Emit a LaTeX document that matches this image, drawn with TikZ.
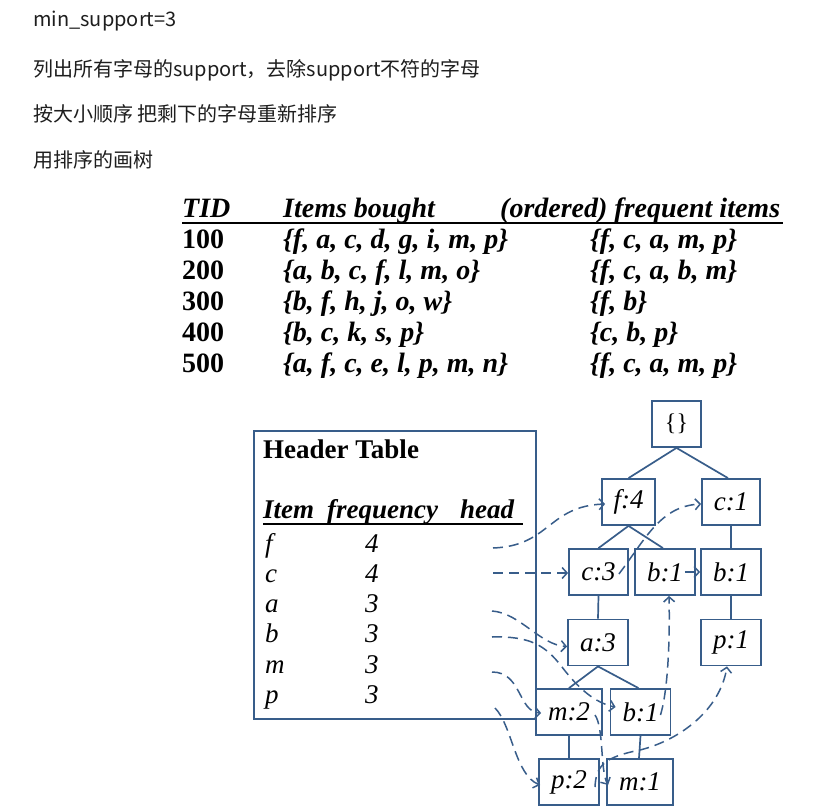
\documentclass[tikz,border=0pt]{standalone}
\usepackage{fontspec}
\setmainfont{Liberation Serif}
\newfontfamily\cjk{Noto Sans CJK SC}
\usetikzlibrary{arrows.meta}
\definecolor{lnk}{HTML}{385D8A}
\definecolor{txt}{HTML}{1E1E1E}
\tikzset{
  cjktext/.style={anchor=base west, inner sep=0pt, text=txt, font=\cjk\fontsize{20}{24}\selectfont},
  tbltext/.style={anchor=base west, inner sep=0pt, font=\fontsize{28}{32}\selectfont\bfseries\itshape},
  tblnum/.style={anchor=base west, inner sep=0pt, font=\fontsize{28}{32}\selectfont\bfseries},
  httext/.style={anchor=base west, inner sep=0pt, font=\fontsize{27}{30}\selectfont\itshape},
  tbox/.style={draw=lnk, line width=1.8pt, inner sep=0pt, minimum height=46pt, font=\fontsize{27}{30}\selectfont\itshape},
  tedge/.style={draw=lnk, line width=1.7pt},
  link/.style={draw=lnk, line width=1.5pt, dash pattern=on 10pt off 6pt,
    -{Straight Barb[length=5pt,width=11pt,line width=1.5pt]}},
}
\begin{document}
\begin{tikzpicture}[x=1pt,y=-1pt]
\useasboundingbox (0,0) rectangle (831,811);
\fill[white] (0,0) rectangle (831,811);

% top text
\node[cjktext] (t1) at (33,27) {min\_support=3};
\node[cjktext] (t2) at (33,76) {列出所有字母的support，去除support不符的字母};
\node[cjktext] (t3) at (33,121) {按大小顺序 把剩下的字母重新排序};
\node[cjktext] (t4) at (33,167) {用排序的画树};

% transaction table
\node[tbltext] (h1) at (182,217) {TID};
\node[tbltext] (h2) at (283,217) {Items bought};
\node[tbltext] (h3) at (500,217) {(ordered) frequent items};
\draw[line width=1.8pt] (182,223) -- (783,223);
\foreach \tid/\items/\freq [count=\i] in {
  100/{\{f, a, c, d, g, i, m, p\}}/{\{f, c, a, m, p\}},
  200/{\{a, b, c, f, l, m, o\}}/{\{f, c, a, b, m\}},
  300/{\{b, f, h, j, o, w\}}/{\{f, b\}},
  400/{\{b, c, k, s, p\}}/{\{c, b, p\}},
  500/{\{a, f, c, e, l, p, m, n\}}/{\{f, c, a, m, p\}}} {
  \node[tblnum] (r\i a) at (182,{248+31*(\i-1)}) {\tid};
  \node[tbltext] (r\i b) at (283,{248+31*(\i-1)}) {\items};
  \node[tbltext] (r\i c) at (590,{248+31*(\i-1)}) {\freq};
}

% header table
\node[draw=lnk, line width=1.8pt, anchor=north west, minimum width=282pt, minimum height=288pt, inner sep=0pt] (ht) at (253,430) {};
\node[anchor=base west, inner sep=0pt, font=\fontsize{27}{30}\selectfont\bfseries] (htt) at (263,458) {Header Table};
\node[tbltext, font=\fontsize{27}{30}\selectfont\bfseries\itshape] (hi1) at (263,518) {Item};
\node[tbltext, font=\fontsize{27}{30}\selectfont\bfseries\itshape] (hi2) at (327,518) {frequency};
\node[tbltext, font=\fontsize{27}{30}\selectfont\bfseries\itshape] (hi3) at (460,518) {head};
\draw[line width=1.8pt] (263,524) -- (523,524);
\foreach \it/\fr/\yy in {f/4/552, c/4/582, a/3/612, b/3/642, m/3/673, p/3/703} {
  \node[httext] (hr\it) at (265,\yy) {\it};
  \node[httext] (hq\it) at (365,\yy) {\fr};
}

% FP tree
\node[tbox, minimum width=49pt, font=\fontsize{24}{28}\selectfont] (root) at (676.5,424) {\{\}};
\node[tbox, minimum width=53pt] (f4) at (628.5,502) {f:4};
\node[tbox, minimum width=58pt] (c1) at (731,502) {c:1};
\node[tbox, minimum width=59pt] (c3) at (598.5,572) {c:3};
\node[tbox, minimum width=60pt] (b1m) at (665,572) {b:1};
\node[tbox, minimum width=60pt] (b1r) at (731,572) {b:1};
\node[tbox, minimum width=60pt] (a3) at (598,642.5) {a:3};
\node[tbox, minimum width=60pt] (p1) at (731,642.5) {p:1};
\node[tbox, minimum width=66pt] (m2) at (569,712) {m:2};
\node[tbox, minimum width=60pt] (b1l) at (640.5,712) {b:1};
\node[tbox, minimum width=60pt] (p2) at (569,782) {p:2};
\node[tbox, minimum width=66pt] (m1) at (640,782) {m:1};

\draw[tedge] (root.south) -- (f4.north);
\draw[tedge] (root.south) -- ([xshift=-3pt]c1.north);
\draw[tedge] (f4.south) -- (c3.north);
\draw[tedge] (f4.south) -- ([xshift=-2pt]b1m.north);
\draw[tedge] (c1.south) -- (b1r.north);
\draw[tedge] (c3.south) -- (a3.north);
\draw[tedge] (b1r.south) -- (p1.north);
\draw[tedge] (a3.south) -- (m2.north);
\draw[tedge] (a3.south) -- ([xshift=-2pt]b1l.north);
\draw[tedge] (m2.south) -- (p2.north);
\draw[tedge] (b1l.south) -- ([xshift=-1pt]m1.north);

% node links
\coordinate (hf) at (493,548);
\coordinate (hc) at (493,573);
\coordinate (ha) at (492,611);
\coordinate (hb) at (492,637);
\coordinate (hm) at (492,672);
\coordinate (hp) at (495,708);

\draw[link] (hf) .. controls (550,546) and (548,506) .. ([xshift=4pt,yshift=-2pt]f4.west);
\draw[link] (hc) -- ([yshift=-1pt]c3.west);
\draw[link] ([xshift=-10pt,yshift=-2pt]c3.east) .. controls (645,540) and (660,506) .. ([yshift=-2pt]c1.west);
\draw[link] ([xshift=-11pt]b1m.east) -- (b1r.west);
\draw[link] (ha) .. controls (520,613) and (540,645) .. ([yshift=-4pt]a3.west);
\draw[link] (hb) .. controls (530,636) and (545,645) .. (562,667) .. controls (578,688) and (595,703) .. ([xshift=6pt,yshift=5pt]b1l.west);
\draw[link] ([xshift=20pt,yshift=-3pt]b1l.center) .. controls (668,690) and (670,640) .. ([xshift=4pt]b1m.south);
\draw[link] (hm) .. controls (522,672) and (518,712) .. ([xshift=6pt,yshift=-1pt]m2.west);
\draw[link] ([xshift=26pt,yshift=-3pt]m2.center) .. controls (604,728) and (600,770) .. ([xshift=2pt,yshift=-3pt]m1.west);
\draw[link] (hp) .. controls (512,725) and (515,775) .. ([xshift=2pt,yshift=-3pt]p2.west);
\draw[link] ([xshift=26pt,yshift=-5pt]p2.center) .. controls (596,765) and (605,757) .. (640,750) .. controls (680,740) and (720,710) .. ([xshift=-4pt]p1.south);
\end{tikzpicture}
\end{document}
